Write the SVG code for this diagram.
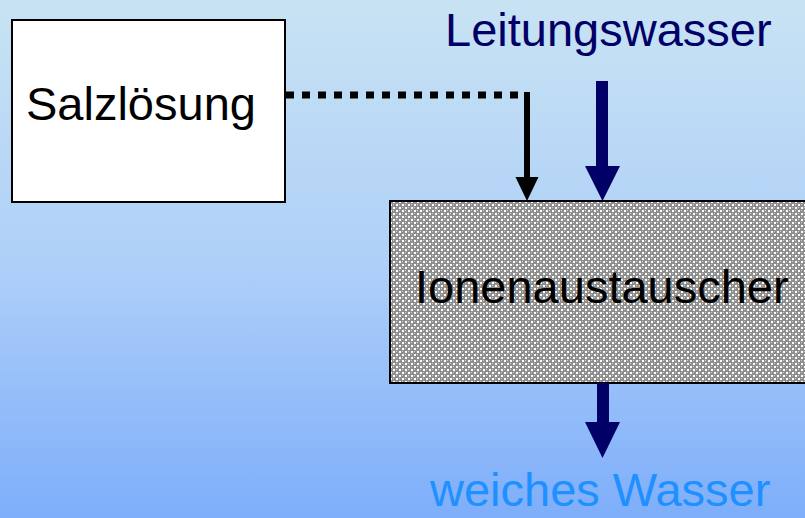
<svg xmlns="http://www.w3.org/2000/svg" width="805" height="518" viewBox="0 0 805 518">
<defs>
<linearGradient id="bg" x1="0" y1="0" x2="0" y2="1">
<stop offset="0" stop-color="#c8e3f3"/>
<stop offset="0.5" stop-color="#afd0f8"/>
<stop offset="1" stop-color="#7eaefa"/>
</linearGradient>
<pattern id="dots" x="0" y="0" width="6" height="6" patternUnits="userSpaceOnUse">
<rect width="6" height="6" fill="#8e8e8e"/>
<rect x="0" y="0" width="2" height="2" fill="#ffffff"/>
<rect x="3" y="3" width="2" height="2" fill="#ffffff"/>
<rect x="3" y="0" width="1" height="1" fill="#d0d0d0"/>
<rect x="0" y="3" width="1" height="1" fill="#d0d0d0"/>
</pattern>
</defs>
<style>
.lbl{font-family:"Liberation Sans",Arial,sans-serif;font-size:47px;}
.box{stroke:#000;stroke-width:2;}
.navy{fill:#000066;}
</style>
<rect width="805" height="518" fill="url(#bg)"/>

<g id="salzloesung">
<rect class="box" x="12" y="20" width="273" height="182" fill="#ffffff"/>
<text class="lbl" x="26" y="120" fill="#000">Salzlösung</text>
</g>

<g id="ionenaustauscher">
<rect class="box" x="390" y="201" width="418" height="182" fill="url(#dots)"/>
<text class="lbl" x="415" y="303" fill="#000">Ionenaustauscher</text>
</g>

<g id="leitungswasser">
<text class="lbl" x="445" y="46" fill="#000066">Leitungswasser</text>
</g>

<g id="weiches-wasser">
<text class="lbl" x="430" y="506" fill="#1e90ff">weiches Wasser</text>
</g>

<g id="connectors">
<path d="M286,95 H525" stroke="#000" stroke-width="7" stroke-dasharray="8 8" fill="none"/>
<path d="M527,92 V178" stroke="#000" stroke-width="6" fill="none"/>
<path d="M515.5,177 L538.5,177 L527,201 Z" fill="#000"/>
<rect class="navy" x="596" y="81" width="12" height="86"/>
<path class="navy" d="M585,166 L620,166 L602.5,201 Z"/>
<rect class="navy" x="597" y="383" width="12" height="40"/>
<path class="navy" d="M585,422 L620,422 L602.5,458 Z"/>
</g>
</svg>
